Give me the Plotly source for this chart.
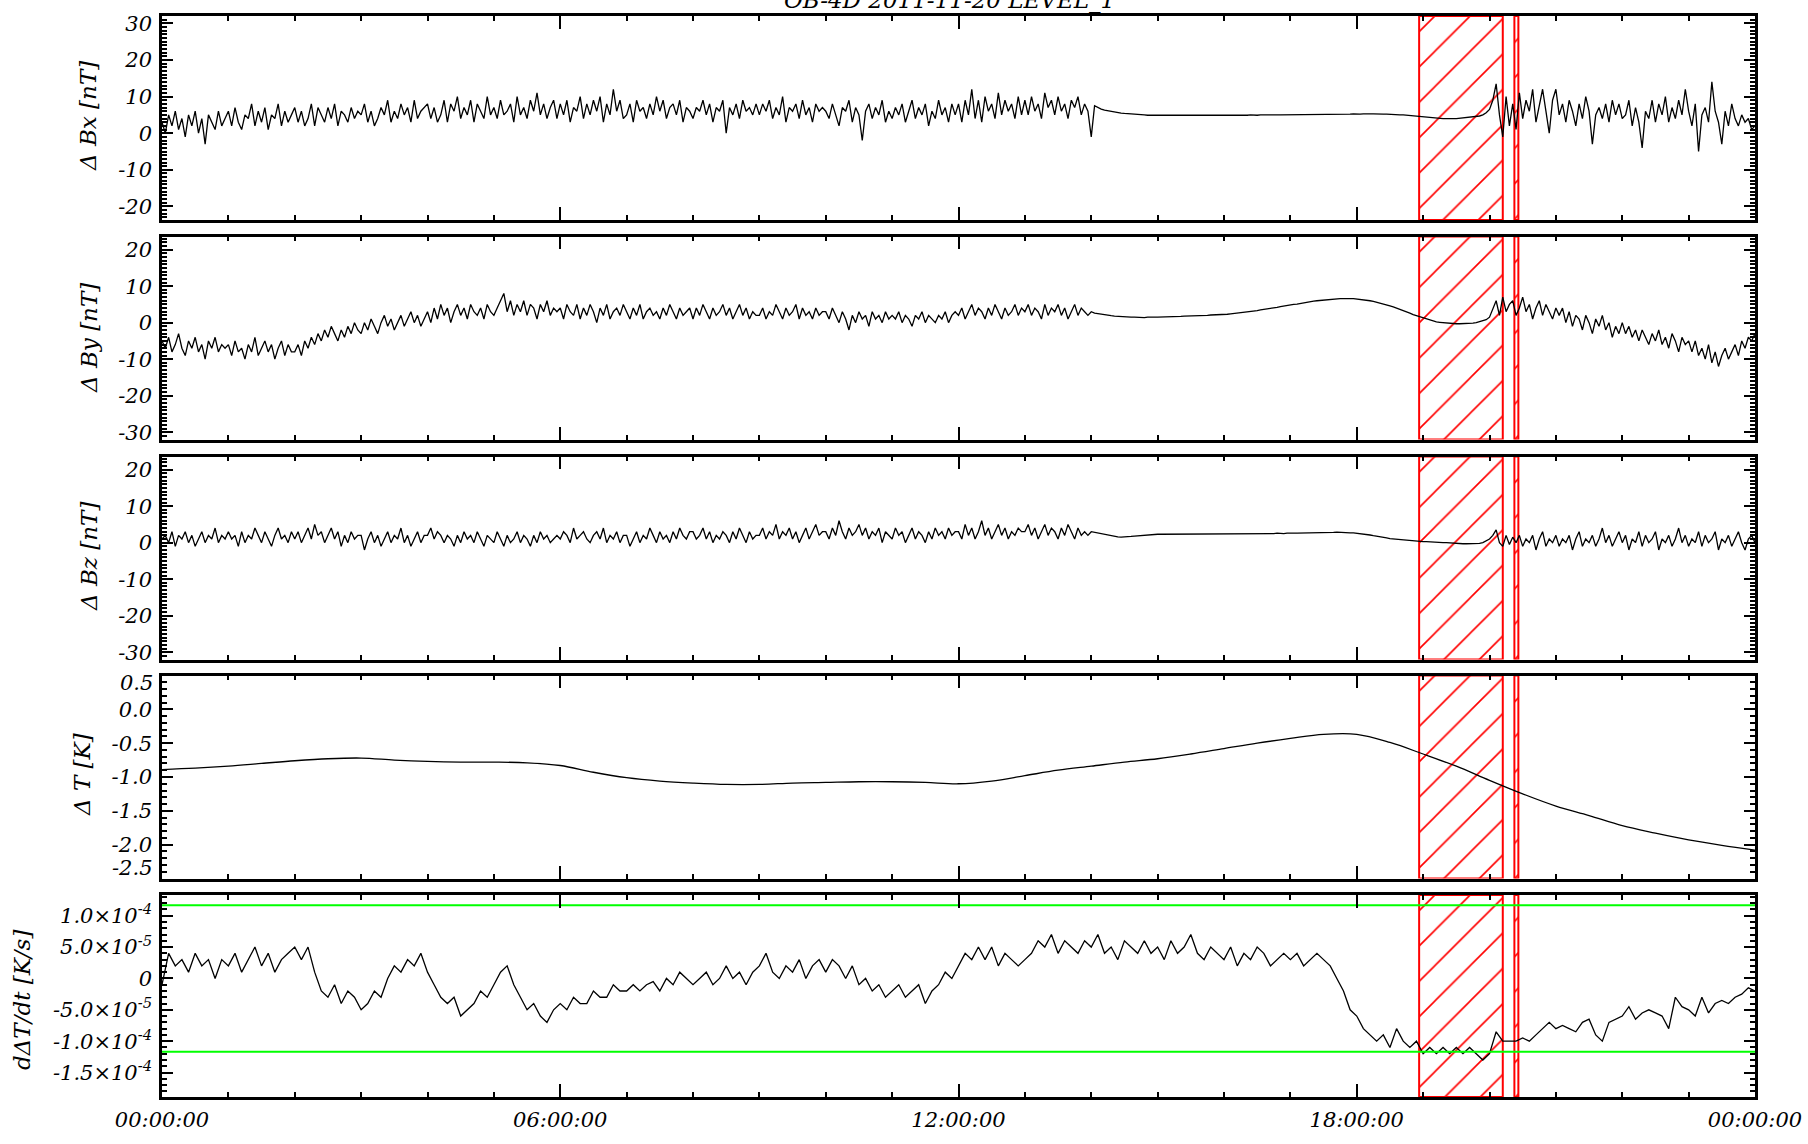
import plotly.graph_objects as go

# ---------------- data ----------------
# magnetometer samples every 3 minutes (hours after 00:00:00)
hours_b = [round(j * 0.05, 2) for j in range(481)]

bx = [3, 0, 5, 2, 6, 1, 4, -1, 5, 2, 6, 0, 4, -3, 5, 3, 1, 6, 2, 4,
      6, 2, 7, 3, 1, 5, 4, 8, 2, 6, 3, 7, 1, 5, 4, 8, 2, 6, 3, 5,
      7, 3, 6, 2, 4, 8, 2, 7, 5, 3, 7, 4, 8, 2, 6, 5, 3, 7, 4, 6,
      5, 8, 3, 6, 2, 4, 7, 5, 9, 3, 6, 4, 8, 5, 7, 3, 9, 4, 6, 7,
      8, 4, 7, 3, 5, 9, 3, 8, 6, 10, 4, 7, 5, 9, 3, 8, 6, 4, 10, 5,
      7, 4, 9, 5, 6, 8, 3, 10, 5, 7, 4, 9, 6, 11, 5, 8, 4, 7, 9, 4,
      8, 5, 9, 3, 7, 6, 10, 4, 8, 5, 9, 6, 10, 3, 8, 5, 12, 6, 9, 4,
      5, 8, 3, 9, 6, 7, 4, 8, 5, 10, 6, 9, 4, 7, 8, 5, 9, 3, 7, 6,
      4, 7, 6, 9, 5, 8, 3, 7, 6, 9, 0, 7, 5, 8, 4, 9, 6, 7, 5, 8,
      5, 8, 6, 9, 4, 7, 5, 10, 3, 7, 6, 8, 4, 9, 5, 7, 3, 8, 6, 7,
      6, 4, 8, 5, 2, 7, 6, 9, 3, 7, 5, -2, 6, 8, 4, 7, 5, 9, 3, 6,
      4, 7, 5, 8, 3, 6, 9, 4, 7, 5, 8, 2, 6, 4, 9, 5, 7, 3, 8, 5,
      8, 3, 9, 5, 12, 4, 9, 3, 10, 6, 8, 4, 11, 5, 9, 6, 8, 4, 10, 5,
      9, 5, 10, 6, 8, 4, 11, 7, 9, 5, 10, 6, 8, 4, 9, 7, 10, 5, 8, 6,
      -1,
      7.5, 7.0, 6.6, 6.3, 6.1, 5.9, 5.8, 5.6, 5.5, 5.4, 5.3, 5.2, 5.2, 5.1, 5.0, 5.0, 4.9, 4.9, 4.8, 4.8,
      4.8, 4.7, 4.8, 4.7, 4.7, 4.8, 4.7, 4.7, 4.8, 4.7, 4.8, 4.8, 4.7, 4.8, 4.8, 4.7, 4.8, 4.8, 4.9, 4.8,
      4.8, 4.9, 4.8, 4.9, 4.9, 4.8, 4.9, 5.0, 4.9, 4.9, 5.0, 4.9, 5.0, 5.0, 4.9, 5.0, 5.0, 5.0, 5.1, 5.0,
      5.0, 5.1, 5.0, 5.1, 5.1, 5.0, 5.1, 5.1, 5.2, 5.1, 5.1, 5.2, 5.1, 5.2, 5.2, 5.1, 5.2, 5.2, 5.3, 5.2,
      5.2, 5.3, 5.2, 5.3, 5.3, 5.2, 5.3, 5.2, 5.2, 5.1, 5.2, 5.1, 5.0, 5.0, 4.9, 4.8, 4.7, 4.6, 4.5, 4.4,
      4.3, 4.2, 4.2, 4.1, 4.0, 4.0, 4.0, 3.9, 4.0, 4.0, 4.1, 4.1, 4.2, 4.3, 4.4, 4.5, 4.7, 5.0, 5.6, 6.5,
      9, 13.5, 5, -1, 10, 2, 8, 1, 11, 4, 9, 6, 12, 3, 8, 12, 6, 0, 9, 12,
      5, 8, 3, 9, 6, 2, 8, 4, 10, 6, -3, 5, 7, 4, 8, 3, 9, 5, 8, 4,
      5, 9, 2, 7, 3, -4, 6, 4, 9, 3, 8, 5, 10, 3, 7, 4, 9, 5, 12, 6,
      2, 8, -5, 5, 7, 3, 14, 6, 3, -3, 6, 2, 8, 4, 2, 5, 3, 4, 1, 2]

by = [-5, -7, -4, -8, -6, -3, -7, -9, -5, -7, -4, -8, -6, -10, -5, -7, -4, -8, -6, -7,
      -6, -9, -5, -8, -7, -10, -6, -8, -4, -9, -7, -5, -8, -6, -10, -7, -5, -9, -6, -8,
      -8, -6, -9, -5, -7, -4, -6, -3, -5, -2, -4, -1, -3, -5, -2, -4, -1, -3, 0, -2,
      -3, 0, -2, 1, -1, -3, 0, 2, -1, 1, -2, 0, 2, -1, 1, 3, 0, 2, -1, 1,
      3, 0, 4, 1, 5, 2, 4, 0, 3, 5, 2, 4, 1, 5, 3, 2, 4, 1, 5, 3,
      2, 4, 6, 8, 3, 6, 2, 5, 3, 6, 2, 5, 4, 1, 5, 3, 6, 2, 4, 3,
      4, 1, 5, 3, 2, 5, 1, 4, 2, 5, 3, 0, 4, 2, 5, 1, 3, 4, 2, 5,
      3, 1, 4, 2, 5, 1, 3, 4, 2, 3, 1, 4, 2, 5, 3, 1, 4, 2, 3, 4,
      1, 4, 2, 5, 3, 1, 4, 2, 3, 5, 2, 4, 1, 3, 5, 2, 4, 1, 3, 2,
      2, 4, 1, 3, 2, 5, 3, 1, 4, 2, 3, 5, 1, 4, 2, 3, 1, 4, 2, 3,
      3, 1, 4, 2, 0, 3, 1, -2, 2, 0, 3, 1, 2, -1, 3, 1, 2, 0, 3, 1,
      2, 1, 3, 0, 2, 1, -1, 2, 1, 3, 0, 2, 1, 0, 2, 1, 3, 0, 2, 3,
      2, 4, 1, 3, 5, 2, 4, 3, 1, 4, 2, 5, 3, 1, 4, 2, 3, 5, 2, 4,
      3, 5, 2, 4, 3, 1, 5, 2, 4, 3, 5, 2, 4, 1, 3, 5, 2, 4, 3, 2,
      3,
      2.6, 2.5, 2.3, 2.2, 2.0, 1.9, 1.8, 1.7, 1.6, 1.6, 1.5, 1.5, 1.5, 1.4, 1.4, 1.4, 1.5, 1.4, 1.5, 1.5,
      1.5, 1.5, 1.6, 1.6, 1.6, 1.7, 1.7, 1.8, 1.8, 1.8, 1.9, 1.9, 2.0, 2.0, 2.0, 2.1, 2.1, 2.1, 2.2, 2.2,
      2.3, 2.4, 2.5, 2.6, 2.7, 2.8, 2.9, 3.0, 3.2, 3.3, 3.5, 3.6, 3.8, 3.9, 4.1, 4.2, 4.4, 4.5, 4.7, 4.8,
      5.0, 5.1, 5.3, 5.4, 5.6, 5.7, 5.9, 6.0, 6.1, 6.2, 6.3, 6.4, 6.5, 6.5, 6.6, 6.6, 6.7, 6.6, 6.6, 6.5,
      6.4, 6.3, 6.2, 6.0, 5.8, 5.6, 5.4, 5.2, 4.9, 4.6, 4.3, 4.0, 3.6, 3.3, 2.9, 2.6, 2.2, 1.9, 1.5, 1.2,
      0.9, 0.6, 0.4, 0.2, 0.1, 0.0, -0.1, -0.2, -0.2, -0.3, -0.3, -0.3, -0.2, -0.2, -0.1, 0.0, 0.2, 0.4, 0.8, 1.5,
      4, 6, 2, 7, 3, 5, 6, 2, 4, 7, 3, 5, 1, 4, 6, 2, 5, 3, 1, 4,
      2, 4, 0, 3, -1, 2, 1, -2, 2, 0, -3, 1, -1, 2, -2, 0, -4, -1, -3, 0,
      -3, -1, -4, -2, -5, -2, -4, -6, -3, -5, -2, -6, -4, -7, -3, -5, -8, -4, -6, -5,
      -8, -5, -9, -7, -10, -6, -11, -8, -12, -9, -7, -10, -8, -6, -9, -5, -7, -4, -5, -3]

bz = [1, 2, 0, 3, -1, 2, 1, 3, 0, 2, -1, 1, 3, 0, 2, 1, 4, 0, 2, 1,
      3, 1, 2, -1, 3, 0, 2, 1, 4, 2, 0, 3, 1, -1, 2, 4, 1, 2, 0, 3,
      1, 3, 0, 2, 4, 1, 5, 2, 3, 0, 2, 4, 1, 3, -1, 2, 0, 3, 1, 2,
      2, -2, 1, 3, 0, 2, -1, 1, 3, 0, 2, 1, 4, 0, 2, -1, 1, 3, 0, 2,
      2, 4, 1, 3, 2, 0, 2, 1, -1, 2, 0, 3, 1, 2, 0, 3, 1, -1, 2, 1,
      0, 3, 1, -1, 2, 0, 1, 3, 0, 2, 1, -1, 2, 0, 3, 1, 2, 0, 1, 2,
      1, 3, 2, 0, 4, 1, 2, 3, 1, 0, 2, 3, 1, 4, 0, 2, 1, 3, 0, 2,
      2, -1, 1, 3, 0, 2, 1, 4, 2, 0, 3, 1, 2, 0, 3, 1, 4, 2, 1, 3,
      3, 1, 2, 4, 1, 3, 0, 2, 1, 3, 2, 0, 3, 1, 4, 2, 0, 3, 1, 2,
      2, 4, 1, 3, 2, 5, 1, 3, 2, 4, 1, 3, 0, 2, 4, 1, 3, 5, 2, 3,
      3, 1, 4, 2, 6, 3, 1, 4, 2, 3, 5, 2, 4, 1, 3, 2, 4, 0, 3, 2,
      1, 4, 2, 3, 0, 2, 4, 1, 3, 2, 0, 3, 1, 4, 2, 3, 1, 4, 2, 3,
      3, 1, 5, 2, 4, 1, 3, 6, 2, 4, 1, 3, 5, 2, 4, 1, 3, 2, 4, 3,
      3, 5, 2, 4, 1, 3, 5, 2, 4, 3, 1, 4, 2, 5, 3, 1, 4, 2, 3, 2,
      3,
      2.8, 2.6, 2.4, 2.2, 2.0, 1.8, 1.7, 1.6, 1.5, 1.5, 1.6, 1.7, 1.8, 1.9, 2.0, 2.1, 2.1, 2.2, 2.2, 2.3,
      2.3, 2.3, 2.4, 2.3, 2.4, 2.4, 2.4, 2.5, 2.4, 2.5, 2.5, 2.4, 2.5, 2.5, 2.5, 2.4, 2.5, 2.5, 2.5, 2.5,
      2.5, 2.4, 2.5, 2.5, 2.4, 2.5, 2.5, 2.4, 2.5, 2.5, 2.5, 2.4, 2.5, 2.5, 2.5, 2.6, 2.5, 2.5, 2.6, 2.5,
      2.6, 2.6, 2.6, 2.6, 2.7, 2.7, 2.7, 2.7, 2.8, 2.8, 2.8, 2.8, 2.8, 2.9, 2.8, 2.8, 2.8, 2.7, 2.7, 2.6,
      2.5, 2.4, 2.2, 2.1, 1.9, 1.8, 1.6, 1.4, 1.3, 1.1, 1.0, 0.9, 0.8, 0.7, 0.6, 0.5, 0.5, 0.4, 0.4, 0.3,
      0.3, 0.2, 0.2, 0.1, 0.1, 0.0, 0.0, -0.1, -0.1, -0.2, -0.2, -0.3, -0.3, -0.3, -0.4, -0.3, -0.2, 0.0, 0.4, 1.0,
      2, 3.5, 0, -1, 2, -0.5, 1.5, 0, 2, -1, 1, 0, 2, -2, 1, 3, -1, 1, 0, 2,
      -1, 1, 0, 2, -2, 1, 3, -1, 1, 0, 2, -1, 1, 4, 0, 2, -1, 1, 3, 0,
      2, -2, 1, 0, 3, -1, 2, 0, 1, 3, -2, 1, 0, 2, -1, 1, 4, 0, 2, -1,
      1, 0, 3, -1, 2, 0, 1, 3, -2, 1, 0, 2, -1, 1, 3, 0, -2, 1, 2, 0]

# temperature difference, half-hour samples
t_hours = [i * 0.5 for i in range(49)]
dT = [-0.89, -0.87, -0.84, -0.80, -0.76, -0.73, -0.72, -0.75, -0.77, -0.78,
      -0.78, -0.79, -0.83, -0.93, -1.01, -1.06, -1.09, -1.11, -1.11, -1.09,
      -1.08, -1.07, -1.07, -1.08, -1.10, -1.06, -0.98, -0.90, -0.84, -0.78,
      -0.73, -0.66, -0.58, -0.50, -0.43, -0.37, -0.37, -0.49, -0.66, -0.84,
      -1.05, -1.25, -1.43, -1.57, -1.72, -1.83, -1.93, -2.01, -2.08]

# temperature derivative, 6-minute samples, in units of 1e-5 K/s
hours_d = [round(i * 0.1, 1) for i in range(241)]
dTdt_e5 = [-1, 4, 2, 3, 1, 4, 2, 3, 0, 3,
           2, 4, 1, 3, 5, 2, 4, 1, 3, 4,
           5, 3, 5, 1, -2, -3, -1, -4, -2, -3,
           -5, -4, -2, -3, 0, 2, 1, 3, 2, 4,
           1, -1, -3, -4, -3, -6, -5, -4, -2, -3,
           -1, 1, 2, -1, -3, -5, -4, -6, -7, -5,
           -4, -5, -3, -4, -4, -2, -3, -3, -1, -2,
           -2, -1, -2, -1, -0.5, -2, 0, -1, 1, 0,
           -1, 0, 1, -1, 0, 2, 0, 1, -1, 1,
           2, 4, 1, 0, 2, 1, 3, 0, 2, 3,
           1, 3, 2, 0, 2, -1, 0, -2, -1, -3,
           -2, -1, -3, -2, -1, -4, -2, -1, 1, 0,
           2, 4, 3, 5, 3, 5, 2, 4, 3, 2,
           3, 4, 6, 5, 7, 4, 6, 5, 4, 6,
           5, 7, 4, 5, 3, 6, 5, 4, 6, 4,
           5, 3, 6, 4, 5, 7, 4, 3, 5, 4,
           3, 5, 2, 4, 3, 5, 4, 2, 3, 4,
           3, 4, 2, 3, 4, 3, 2, 0, -2, -5,
           -6, -8, -9, -10, -9, -11, -8, -10, -11, -10,
           -12, -11, -12, -11, -12, -11, -12, -11, -12, -13,
           -12, -8.5, -10, -10, -10, -9.5, -10, -9, -8, -7,
           -8, -7.5, -8, -8.5, -7, -6.5, -9, -10, -7, -6.5,
           -6, -4.5, -6.5, -5.5, -5, -5.5, -6, -8, -3, -4.5,
           -5, -6, -3, -5.5, -4, -3.5, -4, -3, -2.5, -1.5,
           -2]
dTdt = [v * 1e-5 for v in dTdt_e5]

threshold = 1.1667e-4                      # green limit lines (K/s)
event_windows = [(18.94, 20.20), (20.375, 20.435)]   # hatched intervals (hours)

x_tickvals = [0, 6, 12, 18, 24]
x_ticktext = ["00:00:00", "06:00:00", "12:00:00", "18:00:00", "00:00:00"]

y_ranges = [(-23.7, 32.0), (-32.0, 23.6), (-32.0, 23.6), (-2.5, 0.5), (-1.89e-4, 1.33e-4)]
y_tickvals = [[-20, -10, 0, 10, 20, 30],
              [-30, -20, -10, 0, 10, 20],
              [-30, -20, -10, 0, 10, 20],
              [0.0, -0.5, -1.0, -1.5, -2.0],
              [-1.5e-4, -1.0e-4, -5.0e-5, 0, 5.0e-5, 1.0e-4]]
y_ticktext = [["-20", "-10", "0", "10", "20", "30"],
              ["-30", "-20", "-10", "0", "10", "20"],
              ["-30", "-20", "-10", "0", "10", "20"],
              ["0.0", "-0.5", "-1.0", "-1.5", "-2.0"],
              ["-1.5×10<sup>-4</sup>", "-1.0×10<sup>-4</sup>", "-5.0×10<sup>-5</sup>", "0",
               "5.0×10<sup>-5</sup>", "1.0×10<sup>-4</sup>"]]
edge_labels_T = [(0.5, "0.5"), (-2.5, "-2.5")]
y_minor = [1, 1, 1, 0.1, 1e-5]
y_titles = ["Δ Bx [nT]", "Δ By [nT]", "Δ Bz [nT]", "Δ T [K]", "dΔT/dt [K/s]"]
title_text = "OB-4D 2011-11-20 LEVEL_1"

# ---------------- layout geometry (pixels) ----------------
W, H = 1808, 1144
L, R, T, B = 162, 1755, 16, 1097
panels_px = [(16, 220), (236.5, 439.5), (456.5, 659.5), (675.5, 878.5), (895, 1097)]
ytitle_px = [(88, 116), (89, 338), (89, 557), (82, 775), (22, 1000)]


def px_to_paper_x(px):
    return (px - L) / (R - L)


def px_to_paper_y(py):
    return (B - py) / (B - T)


FONT = "DejaVu Serif"
tickfont = dict(family=FONT, size=21, color="black", style="italic")

fig = go.Figure()
series = [(hours_b, bx), (hours_b, by), (hours_b, bz), (t_hours, dT), (hours_d, dTdt)]

for k in range(5):
    xa = "x" if k == 0 else f"x{k+1}"
    ya = "y" if k == 0 else f"y{k+1}"
    y0, y1 = y_ranges[k]
    for (t0, t1) in event_windows:
        fig.add_trace(go.Bar(
            x=[(t0 + t1) / 2], y=[y1 - y0], base=[y0], width=[t1 - t0],
            xaxis=xa, yaxis=ya, showlegend=False, hoverinfo="skip",
            marker=dict(color="rgba(0,0,0,0)",
                        line=dict(color="#ff0000", width=2),
                        pattern=dict(shape="/", fgcolor="#ff0000", bgcolor="rgba(0,0,0,0)",
                                     fgopacity=1, size=25, solidity=0.065,
                                     fillmode="overlay"))))
    xs, ys = series[k]
    fig.add_trace(go.Scatter(x=xs, y=ys, mode="lines", xaxis=xa, yaxis=ya,
                             line=dict(color="black", width=1.3,
                                       shape="spline" if k == 3 else "linear"),
                             showlegend=False, hoverinfo="skip"))
    if k == 4:
        for thr in (threshold, -threshold):
            fig.add_trace(go.Scatter(x=[0, 24], y=[thr, thr], mode="lines", xaxis=xa, yaxis=ya,
                                     line=dict(color="#00ff00", width=2),
                                     showlegend=False, hoverinfo="skip"))

layout = dict(
    width=W, height=H,
    margin=dict(l=L, r=W - R, t=T, b=H - B, autoexpand=False),
    paper_bgcolor="white", plot_bgcolor="white",
    barmode="overlay", showlegend=False,
)

for k in range(5):
    top_px, bot_px = panels_px[k]
    dom = [px_to_paper_y(bot_px), px_to_paper_y(top_px)]
    xkey = "xaxis" if k == 0 else f"xaxis{k+1}"
    ykey = "yaxis" if k == 0 else f"yaxis{k+1}"
    ya = "y" if k == 0 else f"y{k+1}"
    xa = "x" if k == 0 else f"x{k+1}"
    layout[xkey] = dict(
        domain=[0, 1], anchor=ya, range=[0, 24], automargin=False,
        tickmode="array", tickvals=x_tickvals, ticktext=x_ticktext,
        showticklabels=(k == 4), ticks="inside", ticklen=13, tickwidth=2,
        tickcolor="black", showline=True, linecolor="black", linewidth=2.5,
        mirror="allticks", showgrid=False, zeroline=False,
        tickfont=tickfont, ticklabelstandoff=2,
        minor=dict(ticks="inside", dtick=1, tick0=0, ticklen=5, tickwidth=2,
                   tickcolor="black", showgrid=False),
    )
    y0, y1 = y_ranges[k]
    layout[ykey] = dict(
        domain=dom, anchor=xa, range=[y0, y1], automargin=False,
        tickmode="array", tickvals=y_tickvals[k], ticktext=y_ticktext[k],
        ticks="inside", ticklen=11, tickwidth=2.2, tickcolor="black",
        showline=True, linecolor="black", linewidth=2.5, mirror="allticks",
        showgrid=False, zeroline=False, tickfont=tickfont, ticklabelstandoff=3,
        minor=dict(ticks="inside", dtick=y_minor[k], tick0=0, ticklen=5, tickwidth=2,
                   tickcolor="black", showgrid=False),
    )

annotations = []
for k in range(5):
    cx, cy = ytitle_px[k]
    annotations.append(dict(
        text=y_titles[k], xref="paper", yref="paper",
        x=px_to_paper_x(cx), y=px_to_paper_y(cy), xanchor="center", yanchor="middle",
        textangle=-90, showarrow=False,
        font=dict(family=FONT, size=23, color="black", style="italic")))

# squeezed edge labels of the temperature panel
for val, txt in edge_labels_T:
    ypx = 683 if val > 0 else 868
    annotations.append(dict(
        text=txt, xref="paper", yref="paper",
        x=px_to_paper_x(155), y=px_to_paper_y(ypx), xanchor="right", yanchor="middle",
        showarrow=False, font=tickfont))

annotations.append(dict(
    text=title_text, xref="paper", yref="paper",
    x=px_to_paper_x(949), y=px_to_paper_y(15), xanchor="center", yanchor="bottom",
    showarrow=False, font=dict(family=FONT, size=23, color="black", style="italic")))

layout["annotations"] = annotations
fig.update_layout(**layout)

# remove the default 8px page margin so the figure sits at the window's top-left corner
fig.write_html("out.html",
               config={"displayModeBar": False},
               post_script="document.body.style.margin='0';document.body.style.overflow='hidden';")
